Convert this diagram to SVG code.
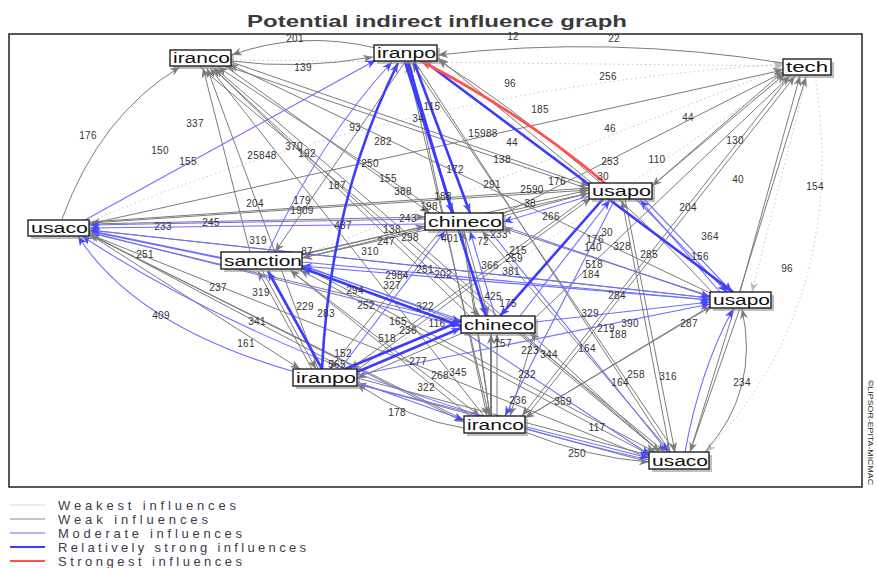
<svg xmlns="http://www.w3.org/2000/svg" width="877" height="568" viewBox="0 0 877 568">
<style>
.e path{fill:none}
.w0{stroke:#bdbdbd;stroke-width:0.9;stroke-dasharray:1.5 3;marker-end:url(#ml)}
.w1{stroke:#7c7c7c;stroke-width:1;marker-end:url(#mg)}
.m{stroke:#6e6eff;stroke-width:1.1;marker-end:url(#mb)}
.s{stroke:#3c3cff;stroke-width:2.6;marker-end:url(#mb)}
.r{stroke:#ff4f4f;stroke-width:2.8;marker-end:url(#mr)}
.lb{font-family:"Liberation Sans",Arial,sans-serif;font-size:10px;fill:#333;text-anchor:middle;letter-spacing:0.3px}
.sh{fill:#8a8a8a;opacity:0.55}
.bx{fill:#fff;stroke:#111;stroke-width:1.3}
.nt{font-family:"Liberation Sans",Arial,sans-serif;font-size:14px;fill:#111}
.lg{font-family:"Liberation Sans",Arial,sans-serif;font-size:13px;fill:#3b3b4b}
</style>
<defs>
<marker id="mg" markerUnits="userSpaceOnUse" markerWidth="10" markerHeight="8" refX="10" refY="4" orient="auto"><path d="M0,0 L10,4 L0,8 L3,4 z" fill="#7c7c7c"/></marker>
<marker id="ml" markerUnits="userSpaceOnUse" markerWidth="10" markerHeight="8" refX="10" refY="4" orient="auto"><path d="M0,0 L10,4 L0,8 L3,4 z" fill="#bdbdbd"/></marker>
<marker id="mb" markerUnits="userSpaceOnUse" markerWidth="10" markerHeight="8" refX="10" refY="4" orient="auto"><path d="M0,0 L10,4 L0,8 L3,4 z" fill="#4646ff"/></marker>
<marker id="mr" markerUnits="userSpaceOnUse" markerWidth="11" markerHeight="9" refX="11" refY="4.5" orient="auto"><path d="M0,0 L11,4.5 L0,9 L3,4.5 z" fill="#ff4f4f"/></marker>
</defs>
<rect width="877" height="568" fill="#fff"/>
<text x="437" y="27" font-family="Liberation Sans,Arial,sans-serif" font-size="17" font-weight="bold" fill="#3a3a3a" text-anchor="middle" textLength="380" lengthAdjust="spacingAndGlyphs">Potential indirect influence graph</text>
<rect x="9" y="34" width="853" height="453" fill="#fff" stroke="#222" stroke-width="1.5"/>
<g id="connectors" class="e">
<path class="w0" d="M302 256 L783 68"/>
<path class="w0" d="M357 372 L788 75"/>
<path class="w0" d="M231 60 L783 66"/>
<path class="w0" d="M807 76 L752 292"/>
<path class="w0" d="M815 75 Q850 300 706 452"/>
<path class="w0" d="M89 222 Q400 90 783 64"/>
<path class="w1" d="M62 219 Q100 115 180 67"/>
<path class="w1" d="M250 252 L203 68"/>
<path class="w1" d="M318 369 L207 68"/>
<path class="w1" d="M470 316 L213 68"/>
<path class="w1" d="M440 213 L218 67"/>
<path class="w1" d="M589 189 L226 66"/>
<path class="w1" d="M484 416 L210 68"/>
<path class="w1" d="M712 294 L229 64"/>
<path class="w1" d="M376 48 Q300 30 232 55"/>
<path class="w1" d="M660 452 L215 68"/>
<path class="w1" d="M783 63 Q610 35 438 55"/>
<path class="w1" d="M489 416 L407 63"/>
<path class="w1" d="M231 61 Q300 70 373 57"/>
<path class="w1" d="M712 292 Q580 150 438 60"/>
<path class="w1" d="M592 183 Q520 125 438 58"/>
<path class="w1" d="M675 452 L412 63"/>
<path class="w1" d="M89 224 L783 70"/>
<path class="w1" d="M503 214 L784 72"/>
<path class="w1" d="M652 186 L785 74"/>
<path class="w1" d="M740 292 L800 76"/>
<path class="w1" d="M535 318 L790 76"/>
<path class="w1" d="M690 452 L806 77"/>
<path class="w1" d="M525 418 L795 76"/>
<path class="w1" d="M589 190 L90 223"/>
<path class="w1" d="M461 322 L90 233"/>
<path class="w1" d="M464 420 L88 234"/>
<path class="w1" d="M357 375 L90 234"/>
<path class="w1" d="M312 369 L258 271"/>
<path class="w1" d="M650 455 L300 270"/>
<path class="w1" d="M470 416 L290 270"/>
<path class="w1" d="M589 193 L302 258"/>
<path class="w1" d="M425 228 L302 258"/>
<path class="w1" d="M405 62 L275 252"/>
<path class="w1" d="M302 255 L425 226"/>
<path class="w1" d="M89 224 L425 217"/>
<path class="w1" d="M710 296 L503 228"/>
<path class="w1" d="M490 416 L462 231"/>
<path class="w1" d="M670 452 L482 231"/>
<path class="w1" d="M225 66 L430 213"/>
<path class="w1" d="M503 216 L589 193"/>
<path class="w1" d="M302 254 L589 190"/>
<path class="w1" d="M231 62 L589 186"/>
<path class="w1" d="M670 452 L622 200"/>
<path class="w1" d="M783 72 L652 186"/>
<path class="w1" d="M357 370 L591 198"/>
<path class="w1" d="M89 222 L589 188"/>
<path class="w1" d="M525 418 L712 306"/>
<path class="w1" d="M705 452 Q760 390 742 309"/>
<path class="w1" d="M89 230 L710 298"/>
<path class="w1" d="M464 231 L488 316"/>
<path class="w1" d="M491 416 L491 334" style="stroke-width:2"/>
<path class="w1" d="M497 416 L497 334"/>
<path class="w1" d="M660 452 L530 333"/>
<path class="w1" d="M212 67 L480 316"/>
<path class="w1" d="M89 234 L300 369"/>
<path class="w1" d="M262 270 L316 369"/>
<path class="w1" d="M465 332 L357 378"/>
<path class="w1" d="M464 428 Q410 420 357 384"/>
<path class="w1" d="M649 462 L357 384"/>
<path class="w1" d="M440 231 L330 369"/>
<path class="w1" d="M589 196 L350 369"/>
<path class="w1" d="M712 305 L525 418"/>
<path class="w1" d="M290 270 L480 416"/>
<path class="w1" d="M464 231 L490 416"/>
<path class="w1" d="M410 62 L487 416"/>
<path class="w1" d="M89 234 L464 422"/>
<path class="w1" d="M790 76 L522 416"/>
<path class="w1" d="M535 330 L510 416"/>
<path class="w1" d="M625 199 L675 452"/>
<path class="w1" d="M520 333 L665 452"/>
<path class="w1" d="M302 266 L655 452"/>
<path class="w1" d="M525 432 Q590 458 649 462"/>
<path class="w1" d="M740 308 L690 452"/>
<path class="w1" d="M415 62 L670 452"/>
<path class="w1" d="M89 234 L649 458"/>
<path class="w1" d="M200 67 L660 452"/>
<path class="w1" d="M357 378 L652 456"/>
<path class="m" d="M85 220 L376 60"/>
<path class="m" d="M268 252 Q320 140 392 62"/>
<path class="m" d="M425 219 L90 225"/>
<path class="m" d="M425 224 L90 228"/>
<path class="m" d="M221 258 L90 231" style="stroke-width:1.8"/>
<path class="m" d="M710 298 L90 230"/>
<path class="m" d="M295 372 Q135 326 78 236"/>
<path class="m" d="M649 460 Q300 380 82 236"/>
<path class="m" d="M461 320 L302 266"/>
<path class="m" d="M710 300 L302 266"/>
<path class="m" d="M589 196 L503 222"/>
<path class="m" d="M340 369 L445 231"/>
<path class="m" d="M495 316 L470 231"/>
<path class="m" d="M520 316 L610 200"/>
<path class="m" d="M720 292 L640 200"/>
<path class="m" d="M636 199 L727 292"/>
<path class="m" d="M644 199 L732 292"/>
<path class="m" d="M503 226 L710 297"/>
<path class="m" d="M302 262 L710 300"/>
<path class="m" d="M535 322 L710 302"/>
<path class="m" d="M357 375 L710 304"/>
<path class="m" d="M685 452 Q700 370 733 309"/>
<path class="m" d="M302 265 L461 322"/>
<path class="m" d="M89 232 L461 326"/>
<path class="m" d="M615 199 L505 416"/>
<path class="m" d="M357 382 L464 420"/>
<path class="m" d="M357 384 L649 458"/>
<path class="m" d="M490 231 L668 452"/>
<path class="m" d="M461 330 L650 455"/>
<path class="s" d="M322 369 Q330 200 398 63"/>
<path class="s" d="M322 369 L268 271"/>
<path class="s" d="M461 326 L302 268"/>
<path class="s" d="M408 62 L452 213"/>
<path class="s" d="M414 62 L470 213"/>
<path class="s" d="M405 62 L486 316"/>
<path class="s" d="M428 64 L733 292"/>
<path class="s" d="M603 199 L500 316"/>
<path class="s" d="M357 372 L461 328"/>
<path class="s" d="M345 369 L461 321"/>
<path class="r" d="M605 183 Q520 112 421 61"/>
</g>
<g id="edge-labels">
<text class="lb" x="295" y="42">201</text>
<text class="lb" x="303" y="71">139</text>
<text class="lb" x="513" y="40">12</text>
<text class="lb" x="614" y="42">22</text>
<text class="lb" x="608" y="80">256</text>
<text class="lb" x="510" y="87">96</text>
<text class="lb" x="540" y="113">185</text>
<text class="lb" x="610" y="132">46</text>
<text class="lb" x="688" y="121">44</text>
<text class="lb" x="88" y="139">176</text>
<text class="lb" x="195" y="127">337</text>
<text class="lb" x="160" y="154">150</text>
<text class="lb" x="188" y="165">155</text>
<text class="lb" x="262" y="159">25848</text>
<text class="lb" x="294" y="150">370</text>
<text class="lb" x="307" y="157">192</text>
<text class="lb" x="355" y="131">93</text>
<text class="lb" x="383" y="145">282</text>
<text class="lb" x="370" y="167">250</text>
<text class="lb" x="337" y="189">187</text>
<text class="lb" x="388" y="182">155</text>
<text class="lb" x="403" y="195">388</text>
<text class="lb" x="432" y="110">115</text>
<text class="lb" x="418" y="122">34</text>
<text class="lb" x="483" y="137">15988</text>
<text class="lb" x="512" y="146">44</text>
<text class="lb" x="502" y="163">138</text>
<text class="lb" x="455" y="173">172</text>
<text class="lb" x="610" y="165">253</text>
<text class="lb" x="657" y="163">110</text>
<text class="lb" x="735" y="144">130</text>
<text class="lb" x="738" y="183">40</text>
<text class="lb" x="815" y="190">154</text>
<text class="lb" x="492" y="188">291</text>
<text class="lb" x="532" y="193">2590</text>
<text class="lb" x="557" y="185">176</text>
<text class="lb" x="603" y="180">30</text>
<text class="lb" x="443" y="200">188</text>
<text class="lb" x="429" y="210">198</text>
<text class="lb" x="255" y="207">204</text>
<text class="lb" x="302" y="204">179</text>
<text class="lb" x="302" y="214">1909</text>
<text class="lb" x="211" y="226">245</text>
<text class="lb" x="163" y="230">233</text>
<text class="lb" x="408" y="222">243</text>
<text class="lb" x="258" y="244">319</text>
<text class="lb" x="343" y="229">487</text>
<text class="lb" x="392" y="233">138</text>
<text class="lb" x="386" y="245">247</text>
<text class="lb" x="410" y="241">298</text>
<text class="lb" x="370" y="255">310</text>
<text class="lb" x="307" y="255">87</text>
<text class="lb" x="145" y="258">251</text>
<text class="lb" x="218" y="291">237</text>
<text class="lb" x="261" y="296">319</text>
<text class="lb" x="161" y="319">409</text>
<text class="lb" x="257" y="325">341</text>
<text class="lb" x="246" y="347">161</text>
<text class="lb" x="305" y="310">229</text>
<text class="lb" x="326" y="317">283</text>
<text class="lb" x="355" y="294">294</text>
<text class="lb" x="366" y="309">252</text>
<text class="lb" x="397" y="279">2984</text>
<text class="lb" x="392" y="289">327</text>
<text class="lb" x="425" y="273">251</text>
<text class="lb" x="443" y="278">202</text>
<text class="lb" x="425" y="310">322</text>
<text class="lb" x="398" y="325">165</text>
<text class="lb" x="408" y="334">236</text>
<text class="lb" x="437" y="327">116</text>
<text class="lb" x="387" y="342">518</text>
<text class="lb" x="343" y="357">152</text>
<text class="lb" x="337" y="368">565</text>
<text class="lb" x="418" y="365">277</text>
<text class="lb" x="440" y="379">268</text>
<text class="lb" x="458" y="376">345</text>
<text class="lb" x="426" y="391">322</text>
<text class="lb" x="397" y="416">178</text>
<text class="lb" x="551" y="220">266</text>
<text class="lb" x="530" y="207">38</text>
<text class="lb" x="499" y="238">233</text>
<text class="lb" x="450" y="242">401</text>
<text class="lb" x="483" y="245">72</text>
<text class="lb" x="518" y="254">215</text>
<text class="lb" x="514" y="262">259</text>
<text class="lb" x="490" y="269">366</text>
<text class="lb" x="511" y="275">381</text>
<text class="lb" x="607" y="236">30</text>
<text class="lb" x="595" y="243">176</text>
<text class="lb" x="593" y="251">140</text>
<text class="lb" x="622" y="250">328</text>
<text class="lb" x="594" y="268">518</text>
<text class="lb" x="591" y="278">184</text>
<text class="lb" x="649" y="258">285</text>
<text class="lb" x="700" y="260">156</text>
<text class="lb" x="710" y="240">364</text>
<text class="lb" x="688" y="211">204</text>
<text class="lb" x="787" y="272">96</text>
<text class="lb" x="617" y="299">284</text>
<text class="lb" x="493" y="300">425</text>
<text class="lb" x="508" y="307">175</text>
<text class="lb" x="590" y="317">329</text>
<text class="lb" x="630" y="327">390</text>
<text class="lb" x="606" y="332">219</text>
<text class="lb" x="618" y="338">188</text>
<text class="lb" x="689" y="327">287</text>
<text class="lb" x="503" y="347">157</text>
<text class="lb" x="530" y="354">223</text>
<text class="lb" x="549" y="358">344</text>
<text class="lb" x="587" y="352">164</text>
<text class="lb" x="527" y="378">232</text>
<text class="lb" x="636" y="378">258</text>
<text class="lb" x="668" y="380">316</text>
<text class="lb" x="742" y="386">234</text>
<text class="lb" x="620" y="386">164</text>
<text class="lb" x="518" y="404">236</text>
<text class="lb" x="563" y="405">359</text>
<text class="lb" x="597" y="431">117</text>
<text class="lb" x="577" y="457">250</text>
</g>
<g id="iranco1"><rect class="sh" x="173" y="53" width="61" height="16"/><rect class="bx" x="170" y="50" width="61" height="16"/><text class="nt" x="173" y="63" textLength="57" lengthAdjust="spacingAndGlyphs">iranco</text></g>
<g id="iranpo1"><rect class="sh" x="377" y="48" width="63" height="16"/><rect class="bx" x="374" y="45" width="63" height="16"/><text class="nt" x="377" y="58" textLength="59" lengthAdjust="spacingAndGlyphs">iranpo</text></g>
<g id="tech"><rect class="sh" x="786" y="62" width="48" height="16"/><rect class="bx" x="783" y="59" width="48" height="16"/><text class="nt" x="786" y="72" textLength="42" lengthAdjust="spacingAndGlyphs">tech</text></g>
<g id="usaco1"><rect class="sh" x="31" y="223" width="61" height="16"/><rect class="bx" x="28" y="220" width="61" height="16"/><text class="nt" x="31" y="233" textLength="57" lengthAdjust="spacingAndGlyphs">usaco</text></g>
<g id="sanction"><rect class="sh" x="224" y="255" width="78" height="17"/><rect class="bx" x="221" y="252" width="81" height="17"/><text class="nt" x="224" y="266" textLength="78" lengthAdjust="spacingAndGlyphs">sanction</text></g>
<g id="chineco1"><rect class="sh" x="428" y="216" width="78" height="17"/><rect class="bx" x="425" y="213" width="78" height="17"/><text class="nt" x="428" y="227" textLength="74" lengthAdjust="spacingAndGlyphs">chineco</text></g>
<g id="usapo"><rect class="sh" x="592" y="186" width="63" height="16"/><rect class="bx" x="589" y="183" width="63" height="16"/><text class="nt" x="592" y="196" textLength="59" lengthAdjust="spacingAndGlyphs">usapo</text></g>
<g id="usapg"><rect class="sh" x="713" y="295" width="61" height="16"/><rect class="bx" x="710" y="292" width="61" height="16"/><text class="nt" x="713" y="305" textLength="57" lengthAdjust="spacingAndGlyphs">usapo</text></g>
<g id="chineco2"><rect class="sh" x="464" y="319" width="74" height="17"/><rect class="bx" x="461" y="316" width="74" height="17"/><text class="nt" x="464" y="330" textLength="70" lengthAdjust="spacingAndGlyphs">chineco</text></g>
<g id="iranpo2"><rect class="sh" x="296" y="372" width="64" height="17"/><rect class="bx" x="293" y="369" width="64" height="17"/><text class="nt" x="296" y="383" textLength="60" lengthAdjust="spacingAndGlyphs">iranpo</text></g>
<g id="iranco2"><rect class="sh" x="467" y="419" width="61" height="17"/><rect class="bx" x="464" y="416" width="61" height="17"/><text class="nt" x="467" y="430" textLength="57" lengthAdjust="spacingAndGlyphs">iranco</text></g>
<g id="usaco2"><rect class="sh" x="652" y="455" width="60" height="17"/><rect class="bx" x="649" y="452" width="60" height="17"/><text class="nt" x="652" y="466" textLength="56" lengthAdjust="spacingAndGlyphs">usaco</text></g>
<g id="legend">
<line x1="10" y1="505" x2="45" y2="505" stroke="#d8d8d8" stroke-width="1"/>
<line x1="10" y1="519" x2="45" y2="519" stroke="#888" stroke-width="1.2"/>
<line x1="10" y1="533" x2="45" y2="533" stroke="#6e6eff" stroke-width="1.2"/>
<line x1="10" y1="547" x2="45" y2="547" stroke="#3c3cff" stroke-width="2"/>
<line x1="10" y1="561" x2="45" y2="561" stroke="#ff4f4f" stroke-width="2"/>
<text class="lg" x="58" y="510" textLength="178" lengthAdjust="spacing">Weakest influences</text>
<text class="lg" x="58" y="524" textLength="150" lengthAdjust="spacing">Weak influences</text>
<text class="lg" x="58" y="538" textLength="184" lengthAdjust="spacing">Moderate influences</text>
<text class="lg" x="58" y="552" textLength="248" lengthAdjust="spacing">Relatively strong influences</text>
<text class="lg" x="58" y="566" textLength="184" lengthAdjust="spacing">Strongest influences</text>
</g>
<text x="868" y="380" transform="rotate(90 868 380)" font-family="Liberation Sans,Arial,sans-serif" font-size="8" fill="#222" textLength="105" lengthAdjust="spacingAndGlyphs">©LIPSOR-EPITA-MICMAC</text>
</svg>
